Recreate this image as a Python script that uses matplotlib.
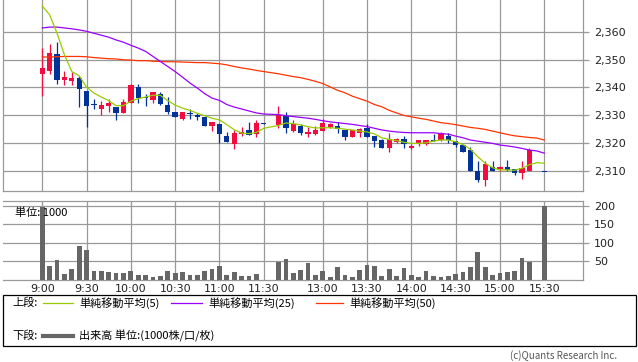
import numpy as np
import matplotlib.pyplot as plt
from matplotlib.patches import Rectangle
from matplotlib.lines import Line2D

# 5-minute slots, one empty slot for the lunch break
times = ([f"{h}:{m:02d}" for h in range(9, 12) for m in range(0, 60, 5) if (h, m) <= (11, 30)] + [""] +
         [f"{h}:{m:02d}" for h in range(12, 16) for m in range(0, 60, 5) if (12, 30) <= (h, m) <= (15, 30)])

opens = [2345, 2346, 2352, 2342.5, 2342.4, 2343.3, 2338.9, 2333.7, 2332.3, 2333.5,
         2333.1, 2330.7, 2334.5, 2340.1, 2336.6, 2335.7, 2337.8, 2333.9, 2331.1, 2328.8,
         2330.7, 2330.2, 2329.4, 2326.3, 2327.1, 2322.6, 2319.9, 2323.3, 2324.8, 2323.2,
         2327.2, None, 2326.5, 2329.7, 2324.5, 2326.3, 2323.4, 2323.4, 2324.6, 2325.9,
         2326.2, 2324.9, 2322.4, 2323.8, 2325.6, 2322.6, 2321.2, 2318.4, 2320.5, 2321.4,
         2318.5, 2319.6, 2319.8, 2321.3, 2321.2, 2322.7, 2320.9, 2319.5, 2317.6, 2310.1,
         2307.0, 2311.6, 2310.8, 2311.6, 2310.7, 2309.5, 2310.1, None, 2309.8]
highs = [2354, 2355.5, 2356.3, 2345.8, 2345.4, 2344.2, 2338.9, 2335.8, 2335.2, 2335.9,
         2333.1, 2335.8, 2341.2, 2341.1, 2337.7, 2338.5, 2338.3, 2336.5, 2331.2, 2331.2,
         2332.2, 2331.0, 2329.4, 2327.8, 2327.1, 2324.0, 2324.8, 2325.8, 2327.5, 2328.3,
         2327.2, None, 2333.3, 2331.3, 2328.3, 2327.0, 2325.9, 2326.2, 2328.6, 2327.2,
         2327.6, 2324.9, 2324.9, 2325.6, 2327.1, 2322.6, 2321.6, 2323.6, 2322.0, 2322.6,
         2319.6, 2321.2, 2321.2, 2323.4, 2324.0, 2323.7, 2320.9, 2319.5, 2318.8, 2313.7,
         2313.8, 2313.7, 2312.0, 2314.0, 2310.7, 2313.7, 2318.2, None, 2309.8]
lows = [2337, 2345, 2341.3, 2340.8, 2340.8, 2333.1, 2325.7, 2332.2, 2330.0, 2331.3,
        2328.5, 2330.7, 2334.4, 2334.3, 2333.3, 2334.5, 2333.9, 2330.6, 2329.4, 2328.3,
        2328.7, 2328.3, 2326.2, 2324.4, 2320.0, 2320.5, 2318.0, 2322.7, 2323.0, 2322.4,
        2327.1, None, 2325.5, 2323.8, 2323.9, 2323.0, 2322.4, 2323.0, 2324.4, 2325.5,
        2323.6, 2321.2, 2322.3, 2322.4, 2322.4, 2318.8, 2318.3, 2317.0, 2320.0, 2318.2,
        2318.0, 2319.2, 2319.4, 2321.0, 2321.0, 2320.0, 2318.8, 2316.9, 2310.1, 2306.3,
        2304.9, 2310.1, 2310.2, 2310.0, 2308.6, 2307.3, 2310.1, None, 2309.7]
closes = [2347, 2352.5, 2342.5, 2343.7, 2343.5, 2339.6, 2333.5, 2333.6, 2333.7, 2334.3,
          2330.7, 2334.9, 2341.0, 2336.4, 2336.4, 2338.3, 2334.0, 2331.2, 2329.5, 2331.2,
          2330.5, 2329.5, 2326.3, 2327.7, 2323.3, 2320.6, 2323.7, 2324.0, 2323.1, 2327.3,
          2327.1, None, 2330.0, 2325.5, 2327.1, 2323.6, 2324.2, 2324.8, 2327.4, 2326.8,
          2325.0, 2322.4, 2324.9, 2325.0, 2322.4, 2320.8, 2318.4, 2321.5, 2321.4, 2319.8,
          2319.2, 2321.2, 2321.2, 2321.0, 2323.6, 2321.1, 2319.4, 2316.9, 2310.1, 2306.9,
          2312.7, 2310.1, 2311.6, 2310.5, 2309.5, 2311.1, 2317.6, None, 2309.7]

ma5 = [2369.2, 2366.0, 2359.4, 2351.7, 2345.7, 2344.2, 2340.1, 2338.0, 2336.6, 2335.3,
       2333.5, 2333.5, 2335.1, 2336.0, 2336.6, 2337.2, 2337.2, 2335.3, 2333.7, 2332.6,
       2331.8, 2330.8, 2329.9, 2329.0, 2328.4, 2326.7, 2324.9, 2323.7, 2323.5, 2323.9,
       2325.4, None, 2326.4, 2327.3, 2327.1, 2326.6, 2326.0, 2325.5, 2325.6, 2325.6,
       2325.4, 2325.1, 2324.8, 2324.4, 2324.1, 2323.4, 2322.0, 2321.4, 2321.0, 2320.4,
       2320.0, 2320.0, 2320.2, 2320.8, 2321.2, 2321.2, 2320.6, 2319.6, 2317.9, 2315.2,
       2312.9, 2311.3, 2310.5, 2310.5, 2310.4, 2311.1, 2312.4, 2313.1, 2312.9]
ma25 = [2361.3, 2361.6, 2361.6, 2361.3, 2361.0, 2360.6, 2360.1, 2359.4, 2358.7, 2358.0,
        2357.0, 2356.2, 2355.1, 2354.1, 2352.9, 2351.1, 2349.3, 2347.5, 2345.7, 2343.7,
        2341.6, 2339.8, 2337.8, 2336.2, 2335.4, 2333.9, 2333.0, 2332.3, 2331.6, 2330.9,
        2330.5, None, 2330.3, 2329.9, 2329.6, 2329.3, 2329.0, 2328.6, 2328.1, 2327.7,
        2327.4, 2327.1, 2326.8, 2326.4, 2326.0, 2325.4, 2324.8, 2324.4, 2324.1, 2323.9,
        2323.8, 2323.8, 2323.8, 2323.8, 2323.5, 2323.3, 2322.6, 2322.0, 2321.2, 2320.8,
        2320.4, 2320.0, 2319.4, 2319.1, 2318.7, 2318.2, 2317.6, 2317.3, 2316.5]
ma50 = [2350.9, 2350.9, 2351.0, 2351.1, 2351.1, 2351.1, 2351.0, 2350.7, 2350.5, 2350.3,
        2350.2, 2349.9, 2349.8, 2349.6, 2349.6, 2349.4, 2349.3, 2349.2, 2349.2, 2349.1,
        2349.0, 2348.9, 2348.9, 2348.7, 2348.5, 2348.1, 2347.5, 2347.0, 2346.6, 2346.1,
        2345.7, None, 2344.9, 2344.4, 2343.9, 2343.5, 2342.9, 2342.2, 2341.4, 2340.2,
        2339.0, 2338.1, 2336.9, 2336.0, 2335.1, 2333.9, 2333.1, 2331.8, 2330.9, 2330.0,
        2329.5, 2329.0, 2328.6, 2328.0, 2327.4, 2327.1, 2326.7, 2326.2, 2325.7, 2325.4,
        2325.0, 2324.4, 2323.8, 2323.2, 2322.7, 2322.4, 2322.1, 2321.9, 2321.2]

volume = [198, 39, 54, 16, 30, 92, 81, 24, 24, 22, 19, 19, 24, 14, 14, 9, 11, 24, 19, 22,
          14, 14, 24, 30, 38, 14, 22, 11, 11, 16, 1, None, 48, 57, 19, 27, 47, 14, 25, 8,
          35, 14, 8, 27, 41, 38, 11, 30, 11, 32, 14, 8, 25, 11, 8, 11, 16, 22, 35, 76,
          35, 14, 19, 22, 24, 59, 49, None, 200]

tick_times = ["9:00", "9:30", "10:00", "10:30", "11:00", "11:30",
              "13:00", "13:30", "14:00", "14:30", "15:00", "15:30"]
price_ticks = [2310, 2320, 2330, 2340, 2350, 2360]
vol_ticks = [50, 100, 150, 200]

UP = "#F20C3F"
DOWN = "#003399"
GRID = "#999999"
JP = ['Noto Sans CJK JP', 'DejaVu Sans']

x = np.arange(len(times))
tick_pos = [times.index(t) for t in tick_times]


def arr(v):
    return np.array([np.nan if a is None else a for a in v], dtype=float)


o, h, l, c = arr(opens), arr(highs), arr(lows), arr(closes)
vol = arr(volume)

fig = plt.figure(figsize=(6.38, 3.62), dpi=100)
ax = fig.add_axes([3 / 638, 1 - 190.7 / 362, 580 / 638, 190.7 / 362])
axv = fig.add_axes([3 / 638, 1 - 280 / 362, 580 / 638, 79 / 362])

# ---- price panel
ok = ~np.isnan(o)
up = ok & (c >= o)
col = np.where(up, UP, DOWN)
ax.vlines(x[ok], l[ok], h[ok], colors=col[ok], lw=0.9, zorder=3)
body_lo = np.minimum(o, c)
body_h = np.maximum(np.abs(c - o), 0.35)
ax.bar(x[ok], body_h[ok], bottom=body_lo[ok], width=0.72, color=col[ok], lw=0, zorder=4)

for vals, colr in [(ma50, "#FF3300"), (ma25, "#9900FF"), (ma5, "#99CC00")]:
    m = arr(vals)
    good = ~np.isnan(m)
    ax.plot(x[good], m[good], color=colr, lw=0.9, zorder=5)

ax.set_xlim(-5.32, 73.25)
ax.set_ylim(2303.07, 2371.3)
ax.set_xticks(tick_pos)
ax.set_xticklabels([])
ax.tick_params(axis='x', length=0)
ax.set_yticks(price_ticks)
ax.set_yticklabels([f"{p:,}" for p in price_ticks])
ax.yaxis.tick_right()
ax.tick_params(axis='y', length=4, width=0.9, color=GRID, labelsize=8, pad=4, labelcolor="#222222")
ax.grid(True, color=GRID, lw=0.9)
ax.set_axisbelow(True)
for s in ax.spines.values():
    s.set_color(GRID)
    s.set_linewidth(0.9)
ax.spines['top'].set_visible(False)

# ---- volume panel
axv.bar(x, np.nan_to_num(vol), width=0.64, color="#666666", lw=0, zorder=3)
axv.set_xlim(-5.32, 73.25)
axv.set_ylim(0, 213.5)
axv.set_xticks(tick_pos)
axv.set_xticklabels(tick_times)
axv.tick_params(axis='x', length=0, labelsize=8, pad=3, labelcolor="#222222")
axv.set_yticks(vol_ticks)
axv.yaxis.tick_right()
axv.tick_params(axis='y', length=4, width=0.9, color=GRID, labelsize=8, pad=4, labelcolor="#222222")
axv.grid(True, color=GRID, lw=0.9)
axv.set_axisbelow(True)
for s in axv.spines.values():
    s.set_color(GRID)
    s.set_linewidth(0.9)
axv.spines['left'].set_visible(False)
axv.text(12 / 580, 0.85, "単位: 1000", transform=axv.transAxes, fontsize=8,
         family=JP, va='center', ha='left', zorder=6)

# ---- legend box
def fx(px):
    return px / 638


def fy(py):
    return 1 - py / 362


fig.patches.append(Rectangle((fx(3), fy(346.3)), fx(633), 51 / 362, transform=fig.transFigure,
                             fill=False, edgecolor="black", lw=0.9))
fig.text(fx(12), fy(303), "上段:", family=JP, fontsize=8, va='center')
fig.text(fx(12), fy(336), "下段:", family=JP, fontsize=8, va='center')
for x0, x1, colr, label in [(43, 73, "#99CC00", "単純移動平均(5)"),
                            (171, 202, "#9900FF", "単純移動平均(25)"),
                            (316, 343, "#FF3300", "単純移動平均(50)")]:
    fig.add_artist(Line2D([fx(x0), fx(x1)], [fy(303), fy(303)], color=colr, lw=0.9,
                          transform=fig.transFigure))
    fig.text(fx(x1 + 6), fy(303), label, family=JP, fontsize=8, va='center')
fig.add_artist(Line2D([fx(43), fx(73)], [fy(336), fy(336)], color="#666666", lw=3,
                      transform=fig.transFigure))
fig.text(fx(79), fy(336), "出来高 単位:(1000株/口/枚)", family=JP, fontsize=8, va='center')
fig.text(fx(617), fy(356), "(c)Quants Research Inc.", family=JP, fontsize=7,
         color="#555555", ha='right', va='center')

fig.savefig("out.png", dpi=100)
